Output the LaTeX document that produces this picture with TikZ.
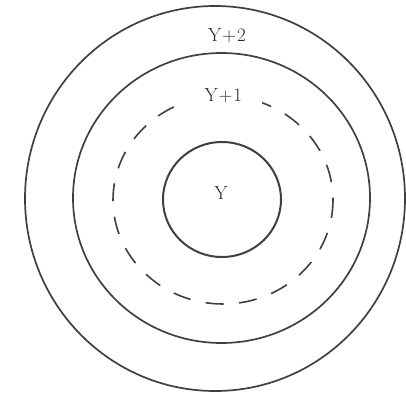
\documentclass[tikz,border=0pt]{standalone}
\begin{document}
\begin{tikzpicture}[x=1pt,y=-1pt,
  ring/.style={draw=black!75,line width=1.7pt},
  dashring/.style={draw=black!75,line width=1.6pt,dash pattern=on 18pt off 15.5pt},
  lbl/.style={font=\fontsize{19}{19}\selectfont,text=black!85,inner sep=0pt}]
\useasboundingbox (0,0) rectangle (406,394);
\draw[ring] (215,198.5) ellipse [x radius=190, y radius=192.5];
\draw[ring] (221.5,198) ellipse [x radius=148.5, y radius=145];
\draw[dashring] (223,200) ellipse [x radius=110, y radius=104];
\draw[ring,line width=2pt] (222,199.5) ellipse [x radius=59, y radius=57.5];
\node[lbl] (y2) at (227,35.5) {Y\kern1pt+\kern1pt2};
\node[lbl,fill=white,inner xsep=20pt,inner ysep=5pt] (y1) at (223.3,96) {Y\kern1pt+\kern1pt1};
\node[lbl] (y0) at (221,193) {Y};
\end{tikzpicture}
\end{document}
